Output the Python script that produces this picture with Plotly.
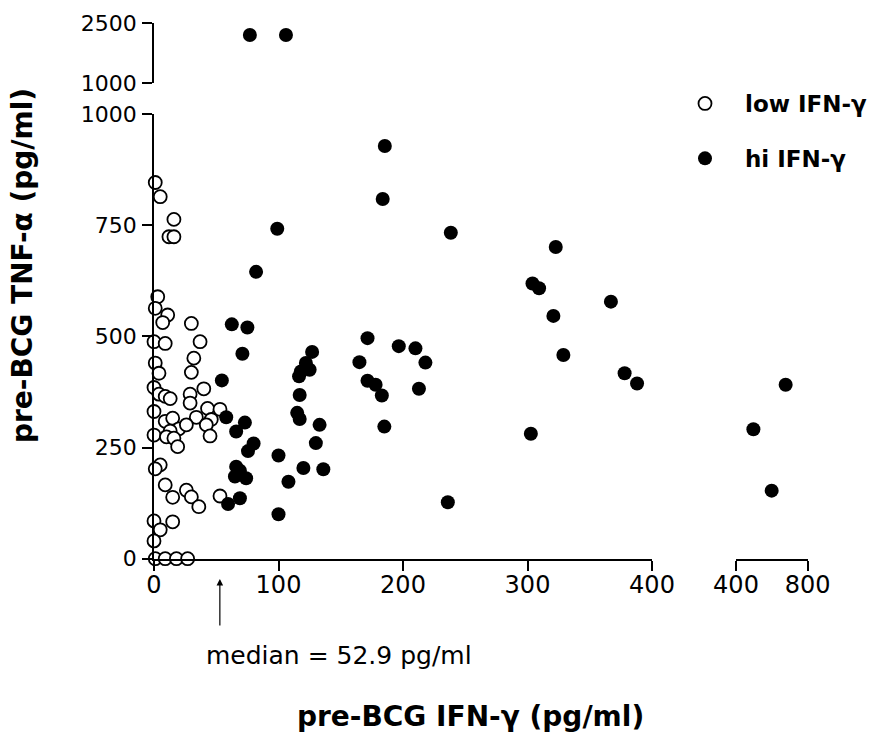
import plotly.graph_objects as go

# ---------------- data ----------------
low_x = [1, 5, 16, 12, 16,
         3, 1, 11, 7, 30,
         0, 9, 37, 32, 1,
         4, 30, 40, 0, 4,
         9, 13, 29, 29, 0,
         9, 15, 34, 43, 53,
         46, 20, 26, 42, 13,
         0, 10, 16, 19, 45,
         5, 1, 9, 15, 26,
         30, 36, 53, 0, 15,
         5, 0, 1, 9, 18, 27]
low_y = [846, 814, 763, 724, 724,
         589, 563, 548, 531, 529,
         488, 484, 488, 451, 440,
         417, 419, 382, 385, 370,
         365, 360, 370, 350, 331,
         309, 316, 318, 338, 336,
         313, 292, 301, 301, 287,
         278, 274, 271, 252, 276,
         211, 202, 166, 138, 154,
         139, 117, 141, 85, 83,
         65, 40, 0, 0, 0, 0]

hi_x = [62.5, 75, 71, 54.5, 58, 73, 66, 80, 75.5, 66, 65, 74, 69, 59.5, 69,
        82, 99, 100, 100, 108, 120, 136, 130, 133, 117, 115, 117,
        127, 122, 118, 116.5, 125, 165, 171.5, 171.5, 178, 183, 185,
        185.4, 183.7, 196.6, 210, 218, 212.8, 238.4, 236,
        322.7, 304, 309.3, 367, 320.8, 328.8, 378, 388, 302.7]
hi_y = [527, 520, 461, 401, 318, 306, 286, 259, 242, 207, 185, 181, 198, 123, 136,
        645, 742, 232, 100, 173, 204, 201, 260, 301, 368, 328, 314,
        465, 440, 421, 410, 425, 442, 496, 400, 391, 367, 297,
        928, 809, 478, 473, 441, 382, 733, 127,
        701, 619, 608, 578, 546, 458, 417, 394, 281]

hi_top_x = [77, 106]
hi_top_y = [2200, 2200]

hi_far_x = [497, 599, 677]
hi_far_y = [291, 153, 391]

x_ticks_main = [0, 100, 200, 300, 400]
x_ticks_far = [400, 800]
y_ticks_main = [0, 250, 500, 750, 1000]
y_ticks_top = [1000, 2500]
median_ifn = 52.9

# ---------------- layout helpers ----------------
W, H = 884, 743
def fx(p):
    return p / W
def fy(p):
    return 1 - p / H

FONT = "DejaVu Sans"
xtickfont = dict(family=FONT, size=24, color="black")
ytickfont = dict(family=FONT, size=22, color="black")

open_marker = dict(symbol="circle", size=13, color="white",
                   line=dict(color="black", width=1.8))
fill_marker = dict(symbol="circle", size=14, color="black",
                   line=dict(color="black", width=0))

fig = go.Figure()
fig.add_trace(go.Scatter(x=low_x, y=low_y, mode="markers", name="low IFN-γ",
                         marker=open_marker, xaxis="x", yaxis="y",
                         cliponaxis=False, legendgroup="a"))
fig.add_trace(go.Scatter(x=hi_x, y=hi_y, mode="markers", name="hi IFN-γ",
                         marker=fill_marker, xaxis="x", yaxis="y",
                         cliponaxis=False, legendgroup="b"))
fig.add_trace(go.Scatter(x=hi_top_x, y=hi_top_y, mode="markers", name="hi IFN-γ",
                         marker=fill_marker, xaxis="x", yaxis="y2",
                         cliponaxis=False, showlegend=False, legendgroup="b"))
fig.add_trace(go.Scatter(x=hi_far_x, y=hi_far_y, mode="markers", name="hi IFN-γ",
                         marker=fill_marker, xaxis="x2", yaxis="y",
                         cliponaxis=False, showlegend=False, legendgroup="b"))

axis_common = dict(showgrid=False, zeroline=False, showline=True,
                   linecolor="black", linewidth=1.8, ticks="outside",
                   ticklen=10, tickwidth=1.6, tickcolor="black",
                   fixedrange=True, automargin=False)

fig.update_layout(
    width=W, height=H,
    margin=dict(l=0, r=0, t=0, b=0, pad=0, autoexpand=False),
    paper_bgcolor="white", plot_bgcolor="white",
    xaxis=dict(domain=[fx(154), fx(652)], range=[0, 400], anchor="y",
               tickvals=x_ticks_main, ticktext=[str(v) for v in x_ticks_main],
               tickfont=xtickfont, ticklabelstandoff=-6, **axis_common),
    xaxis2=dict(domain=[fx(736), fx(807.7)], range=[400, 800], anchor="y",
                tickvals=x_ticks_far, ticktext=[str(v) for v in x_ticks_far],
                tickfont=xtickfont, ticklabelstandoff=-6, **axis_common),
    yaxis=dict(domain=[fy(558.7), fy(114)], range=[0, 1000], anchor="x",
               tickvals=y_ticks_main, ticktext=[str(v) for v in y_ticks_main],
               tickfont=ytickfont, ticklabelstandoff=1, **axis_common),
    yaxis2=dict(domain=[fy(83), fy(23)], range=[1000, 2500], anchor="x",
                tickvals=y_ticks_top, ticktext=[str(v) for v in y_ticks_top],
                tickfont=ytickfont, ticklabelstandoff=1, **axis_common),
    showlegend=True,
    legend=dict(x=fx(665), y=fy(82), xanchor="left", yanchor="top",
                font=dict(family=FONT, size=23, color="black", weight="bold"),
                itemwidth=70, tracegroupgap=22, bgcolor="rgba(0,0,0,0)",
                itemclick=False, itemdoubleclick=False),
)

# axis titles
fig.add_annotation(text="<b>pre-BCG TNF-α (pg/ml)</b>", xref="paper", yref="paper",
                   x=fx(22), y=fy(266), textangle=-90, showarrow=False,
                   font=dict(family=FONT, size=28, color="black"),
                   xanchor="center", yanchor="middle")
fig.add_annotation(text="<b>pre-BCG IFN-γ (pg/ml)</b>", xref="paper", yref="paper",
                   x=fx(470), y=fy(716), showarrow=False,
                   font=dict(family=FONT, size=28, color="black"),
                   xanchor="center", yanchor="middle")

# median arrow and label
fig.add_annotation(x=median_ifn, y=fy(579), xref="x", yref="paper",
                   ax=0, ay=48, axref="pixel", ayref="pixel",
                   text="", showarrow=True, arrowhead=2, arrowsize=1.1,
                   arrowwidth=1.2, arrowcolor="black")
fig.add_annotation(text="median = " + str(median_ifn) + " pg/ml",
                   xref="paper", yref="paper", x=fx(204), y=fy(655),
                   xanchor="left", yanchor="middle", showarrow=False,
                   font=dict(family=FONT, size=25, color="black"))

fig.write_html("out.html", config={"displayModeBar": False},
               post_script="document.body.style.margin='0px';document.body.style.padding='0px';")
